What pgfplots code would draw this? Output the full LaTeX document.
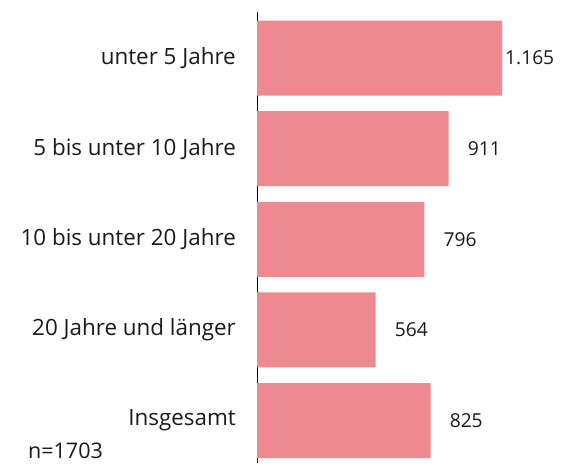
\documentclass[border=0pt]{standalone}
\usepackage{pgfplots}
\pgfplotsset{compat=1.18}
\usepackage{fontspec}
\setmainfont{Open Sans}
\definecolor{barpink}{HTML}{ED8A90}
\definecolor{txt}{HTML}{1A1A1A}
\begin{document}
\begin{tikzpicture}
\path[use as bounding box] (0,0) rectangle (569pt,463pt);
\begin{axis}[
  at={(257pt,0pt)}, anchor=south west,
  scale only axis, width=300pt, height=451pt,
  xbar, bar width=75pt,
  xmin=0, xmax=1426.5,
  ymin=-0.508, ymax=4.469, y dir=reverse,
  axis x line=none,
  axis y line*=left,
  y axis line style={black, line width=1pt},
  ytick={0,1,2,3,4},
  yticklabels={unter 5 Jahre, 5 bis unter 10 Jahre, 10 bis unter 20 Jahre, 20 Jahre und länger, Insgesamt},
  major tick length=0pt,
  yticklabel style={font=\fontsize{22.4}{26}\selectfont, text=txt, inner sep=0pt, xshift=-21pt},
  nodes near coords,
  nodes near coords style={font=\fontsize{19.2}{23}\selectfont, text=txt, anchor=west, inner sep=0pt, text width=52pt, align=right},
  /pgf/number format/1000 sep={.},
  /pgf/number format/assume math mode=true,
  clip=false,
]
\addplot[fill=barpink, draw=none] coordinates {(1165,0) (911,1) (796,2) (564,3) (825,4)};
\end{axis}
\node[anchor=base west, inner sep=0pt, font=\fontsize{21.5}{25}\selectfont, text=txt] at (28pt,5pt) {n=1703};
\end{tikzpicture}
\end{document}
